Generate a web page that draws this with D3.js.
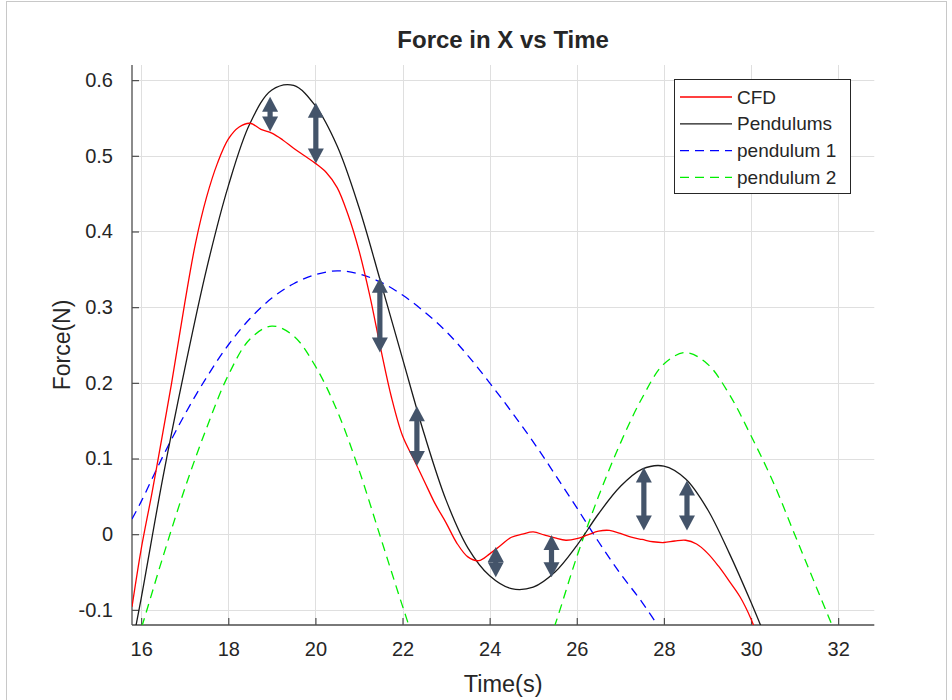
<!DOCTYPE html>
<html>
<head>
<meta charset="utf-8">
<script src="https://cdn.jsdelivr.net/npm/d3@7"></script>
<style>
  body { margin: 0; background: #fff; }
  svg { display: block; }
  text { font-family: "Liberation Sans", Arial, Helvetica, sans-serif; fill: #262626; }
</style>
</head>
<body>
<svg id="chart" width="952" height="700"></svg>
<script>
// ---- data ----
const chartTitle = "Force in X vs Time";
const xLabel = "Time(s)";
const yLabel = "Force(N)";
const xTicks = [16, 18, 20, 22, 24, 26, 28, 30, 32];
const yTicks = [-0.1, 0, 0.1, 0.2, 0.3, 0.4, 0.5, 0.6];
const xDomain = [15.79, 32.83];
const yDomain = [-0.12, 0.62];

// CFD force history
const cfdTime = [15.79, 16.0, 16.25, 16.5, 16.7, 17.0, 17.25, 17.5, 17.75, 18.0, 18.25, 18.5, 18.75,
  19.0, 19.25, 19.5, 19.75, 20.0, 20.25, 20.5, 20.75, 21.0, 21.25, 21.5, 21.75, 22.0, 22.25,
  22.5, 22.75, 23.0, 23.25, 23.5, 23.75, 24.0, 24.25, 24.5, 24.75, 25.0, 25.25, 25.5, 25.75,
  26.0, 26.25, 26.5, 26.75, 27.0, 27.25, 27.5, 27.75, 28.0, 28.25, 28.5, 28.75, 29.0, 29.25,
  29.5, 29.75, 30.0, 30.15];
const cfdForce = [-0.096, -0.02, 0.055, 0.135, 0.2, 0.305, 0.385, 0.445, 0.49, 0.522, 0.538, 0.543, 0.535,
  0.53, 0.521, 0.51, 0.5, 0.49, 0.478, 0.458, 0.422, 0.375, 0.315, 0.245, 0.18, 0.13, 0.1,
  0.07, 0.04, 0.015, -0.012, -0.03, -0.035, -0.026, -0.015, -0.004, 0.0, 0.003, -0.001, -0.005, -0.008,
  -0.006, -0.001, 0.004, 0.005, 0.001, -0.004, -0.007, -0.01, -0.011, -0.009, -0.008, -0.013, -0.025, -0.042,
  -0.062, -0.083, -0.112, -0.135];

// combined pendulum model
const pendTime = [15.8, 16.0, 16.5, 17.0, 17.5, 18.0, 18.5, 19.0, 19.5, 20.0, 20.5, 21.0, 21.5, 22.0,
  22.5, 23.0, 23.5, 24.0, 24.5, 25.0, 25.5, 26.0, 26.5, 27.0, 27.5, 28.0, 28.5, 29.0, 29.5, 30.0, 30.5];
const pendulumsForce = [-0.145, -0.085, 0.075, 0.218, 0.35, 0.46, 0.543, 0.587, 0.593, 0.566, 0.513, 0.432, 0.333, 0.232,
  0.132, 0.045, -0.018, -0.055, -0.072, -0.07, -0.05, -0.015, 0.027, 0.063, 0.086, 0.09, 0.073, 0.033, -0.025, -0.09, -0.16];

// single pendulum components
const p1Time = [15.79, 16.0, 16.5, 17.0, 17.5, 18.0, 18.5, 19.0, 19.5, 20.0, 20.5, 21.0, 21.5, 22.0,
  22.5, 23.0, 23.5, 24.0, 24.5, 25.0, 25.5, 26.0, 26.5, 27.0, 27.5, 28.0];
const pendulum1Force = [0.02, 0.043, 0.103, 0.158, 0.207, 0.25, 0.285, 0.312, 0.331, 0.343, 0.348, 0.344, 0.333, 0.316,
  0.294, 0.268, 0.236, 0.2, 0.162, 0.122, 0.079, 0.035, -0.01, -0.052, -0.09, -0.133];

const p2Time = [15.8, 16.0, 16.5, 17.0, 17.5, 18.0, 18.5, 19.0, 19.5, 20.0, 20.5, 21.0, 21.5, 22.0, 22.5,
  23.0, 23.5, 24.0, 24.5, 25.0, 25.5, 26.0, 26.5, 27.0, 27.5, 28.0, 28.5, 29.0, 29.5, 30.0, 30.5,
  31.0, 31.5, 32.0];
const pendulum2Force = [-0.16, -0.125, -0.03, 0.06, 0.14, 0.21, 0.258, 0.275, 0.262, 0.222, 0.163, 0.085, -0.005, -0.095, -0.18,
  -0.25, -0.29, -0.3, -0.27, -0.2, -0.12, -0.03, 0.05, 0.12, 0.18, 0.225, 0.24, 0.225, 0.185, 0.13, 0.07,
  0.0, -0.07, -0.14];

// gap annotations between model and CFD: time, upper force, lower force
const gapTime = [18.96, 20.01, 21.48, 22.33, 24.14, 25.42, 27.54, 28.53];
const gapUpper = [0.578, 0.57, 0.339, 0.169, -0.017, -0.001, 0.088, 0.071];
const gapLower = [0.532, 0.49, 0.24, 0.09, -0.057, -0.057, 0.005, 0.005];

const legendNames = ["CFD", "Pendulums", "pendulum 1", "pendulum 2"];

// ---- layout ----
const svg = d3.select("#chart");
const W = 952, H = 700;
const plot = { left: 132, right: 874.3, top: 65, bottom: 625 };

svg.append("rect").attr("width", W).attr("height", H).attr("fill", "#fff");
// figure frame
svg.append("rect").attr("x", 6.5).attr("y", 1.5).attr("width", 940).attr("height", 700)
  .attr("fill", "none").attr("stroke", "#c8c8c8").attr("stroke-width", 1);

const x = d3.scaleLinear().domain(xDomain).range([plot.left, plot.right]);
const y = d3.scaleLinear().domain(yDomain).range([plot.bottom, plot.top]);

// grid
const grid = svg.append("g").attr("stroke", "#dfdfdf").attr("stroke-width", 1);
grid.selectAll("line.vx").data(xTicks).join("line")
  .attr("x1", d => Math.round(x(d)) + 0.5).attr("x2", d => Math.round(x(d)) + 0.5)
  .attr("y1", plot.top).attr("y2", plot.bottom);
grid.selectAll("line.hy").data(yTicks).join("line")
  .attr("y1", d => Math.round(y(d)) + 0.5).attr("y2", d => Math.round(y(d)) + 0.5)
  .attr("x1", plot.left).attr("x2", plot.right);

// axes
const xAxis = d3.axisBottom(x).tickValues(xTicks).tickSizeInner(-7).tickSizeOuter(0).tickPadding(17)
  .tickFormat(d3.format("d"));
const yAxis = d3.axisLeft(y).tickValues(yTicks).tickSizeInner(-7).tickSizeOuter(0).tickPadding(19)
  .tickFormat(d => d === 0 ? "0" : d3.format(".1f")(d).replace("\u2212", "-"));

const gx = svg.append("g").attr("transform", `translate(0,${plot.bottom})`).call(xAxis);
const gy = svg.append("g").attr("transform", `translate(${plot.left},0)`).call(yAxis);
[gx, gy].forEach(g => {
  g.select(".domain").attr("stroke", "#4d4d4d").attr("stroke-width", 1.3);
  g.selectAll(".tick line").attr("stroke", "#4d4d4d").attr("stroke-width", 1.2);
  g.selectAll(".tick text").attr("font-size", 20).attr("fill", "#262626")
    .attr("font-family", "\"Liberation Sans\", Arial, sans-serif");
});
gx.select(".domain").attr("d", `M${plot.left},0H${plot.right}`);
gy.select(".domain").attr("d", `M0,${plot.bottom}V${plot.top}`);

// clip to the axes box
svg.append("clipPath").attr("id", "clip").append("rect")
  .attr("x", plot.left).attr("y", plot.top)
  .attr("width", plot.right - plot.left).attr("height", plot.bottom - plot.top);

const lineGen = d3.line().x(d => x(d[0])).y(d => y(d[1])).curve(d3.curveCatmullRom.alpha(0.5));
const zipSeries = (t, v) => t.map((ti, i) => [ti, v[i]]);

const series = [
  { name: legendNames[0], data: zipSeries(cfdTime, cfdForce), color: "#ff0000", dash: null },
  { name: legendNames[1], data: zipSeries(pendTime, pendulumsForce), color: "#1a1a1a", dash: null },
  { name: legendNames[2], data: zipSeries(p1Time, pendulum1Force), color: "#0000ff", dash: "9,6" },
  { name: legendNames[3], data: zipSeries(p2Time, pendulum2Force), color: "#00ee00", dash: "9,6" }
];

const lines = svg.append("g").attr("clip-path", "url(#clip)");
// draw components first so the solid curves sit on top
[series[2], series[3], series[1], series[0]].forEach(s => {
  lines.append("path")
    .attr("d", lineGen(s.data))
    .attr("fill", "none")
    .attr("stroke", s.color)
    .attr("stroke-width", 1.3)
    .attr("stroke-dasharray", s.dash);
});

// double-headed arrows marking the model/CFD gap
const headLen = 15, headHalf = 8, shaftHalf = 2.6;
const arrows = svg.append("g").attr("fill", "#44546a");
gapTime.forEach((t, i) => {
  const cx = x(t), yTop = y(gapUpper[i]), yBot = y(gapLower[i]);
  arrows.append("path").attr("d",
    `M${cx},${yTop}L${cx + headHalf},${yTop + headLen}L${cx - headHalf},${yTop + headLen}Z`);
  arrows.append("path").attr("d",
    `M${cx},${yBot}L${cx + headHalf},${yBot - headLen}L${cx - headHalf},${yBot - headLen}Z`);
  const s0 = yTop + headLen - 1, s1 = yBot - headLen + 1;
  if (s1 > s0) {
    arrows.append("rect").attr("x", cx - shaftHalf).attr("y", s0)
      .attr("width", shaftHalf * 2).attr("height", s1 - s0);
  }
});

// legend
const lg = svg.append("g");
const lgBox = { x: 674.5, y: 79.5, w: 176, h: 114 };
lg.append("rect").attr("x", lgBox.x).attr("y", lgBox.y).attr("width", lgBox.w).attr("height", lgBox.h)
  .attr("fill", "#fff").attr("stroke", "#262626").attr("stroke-width", 1);
series.forEach((s, i) => {
  const yy = lgBox.y + 17.5 + i * 26.8;
  lg.append("line").attr("x1", 680).attr("x2", 732).attr("y1", yy).attr("y2", yy)
    .attr("stroke", s.color).attr("stroke-width", 1.3).attr("stroke-dasharray", s.dash);
  lg.append("text").attr("x", 737).attr("y", yy).attr("dy", "0.35em")
    .attr("font-size", 19).text(s.name);
});

// titles
svg.append("text").attr("x", (plot.left + plot.right) / 2).attr("y", 48)
  .attr("text-anchor", "middle").attr("font-size", 24).attr("font-weight", "bold").text(chartTitle);
svg.append("text").attr("x", (plot.left + plot.right) / 2).attr("y", 692)
  .attr("text-anchor", "middle").attr("font-size", 23.5).text(xLabel);
svg.append("text").attr("transform", `translate(70,${(plot.top + plot.bottom) / 2}) rotate(-90)`)
  .attr("text-anchor", "middle").attr("font-size", 23).text(yLabel);
</script>
</body>
</html>
